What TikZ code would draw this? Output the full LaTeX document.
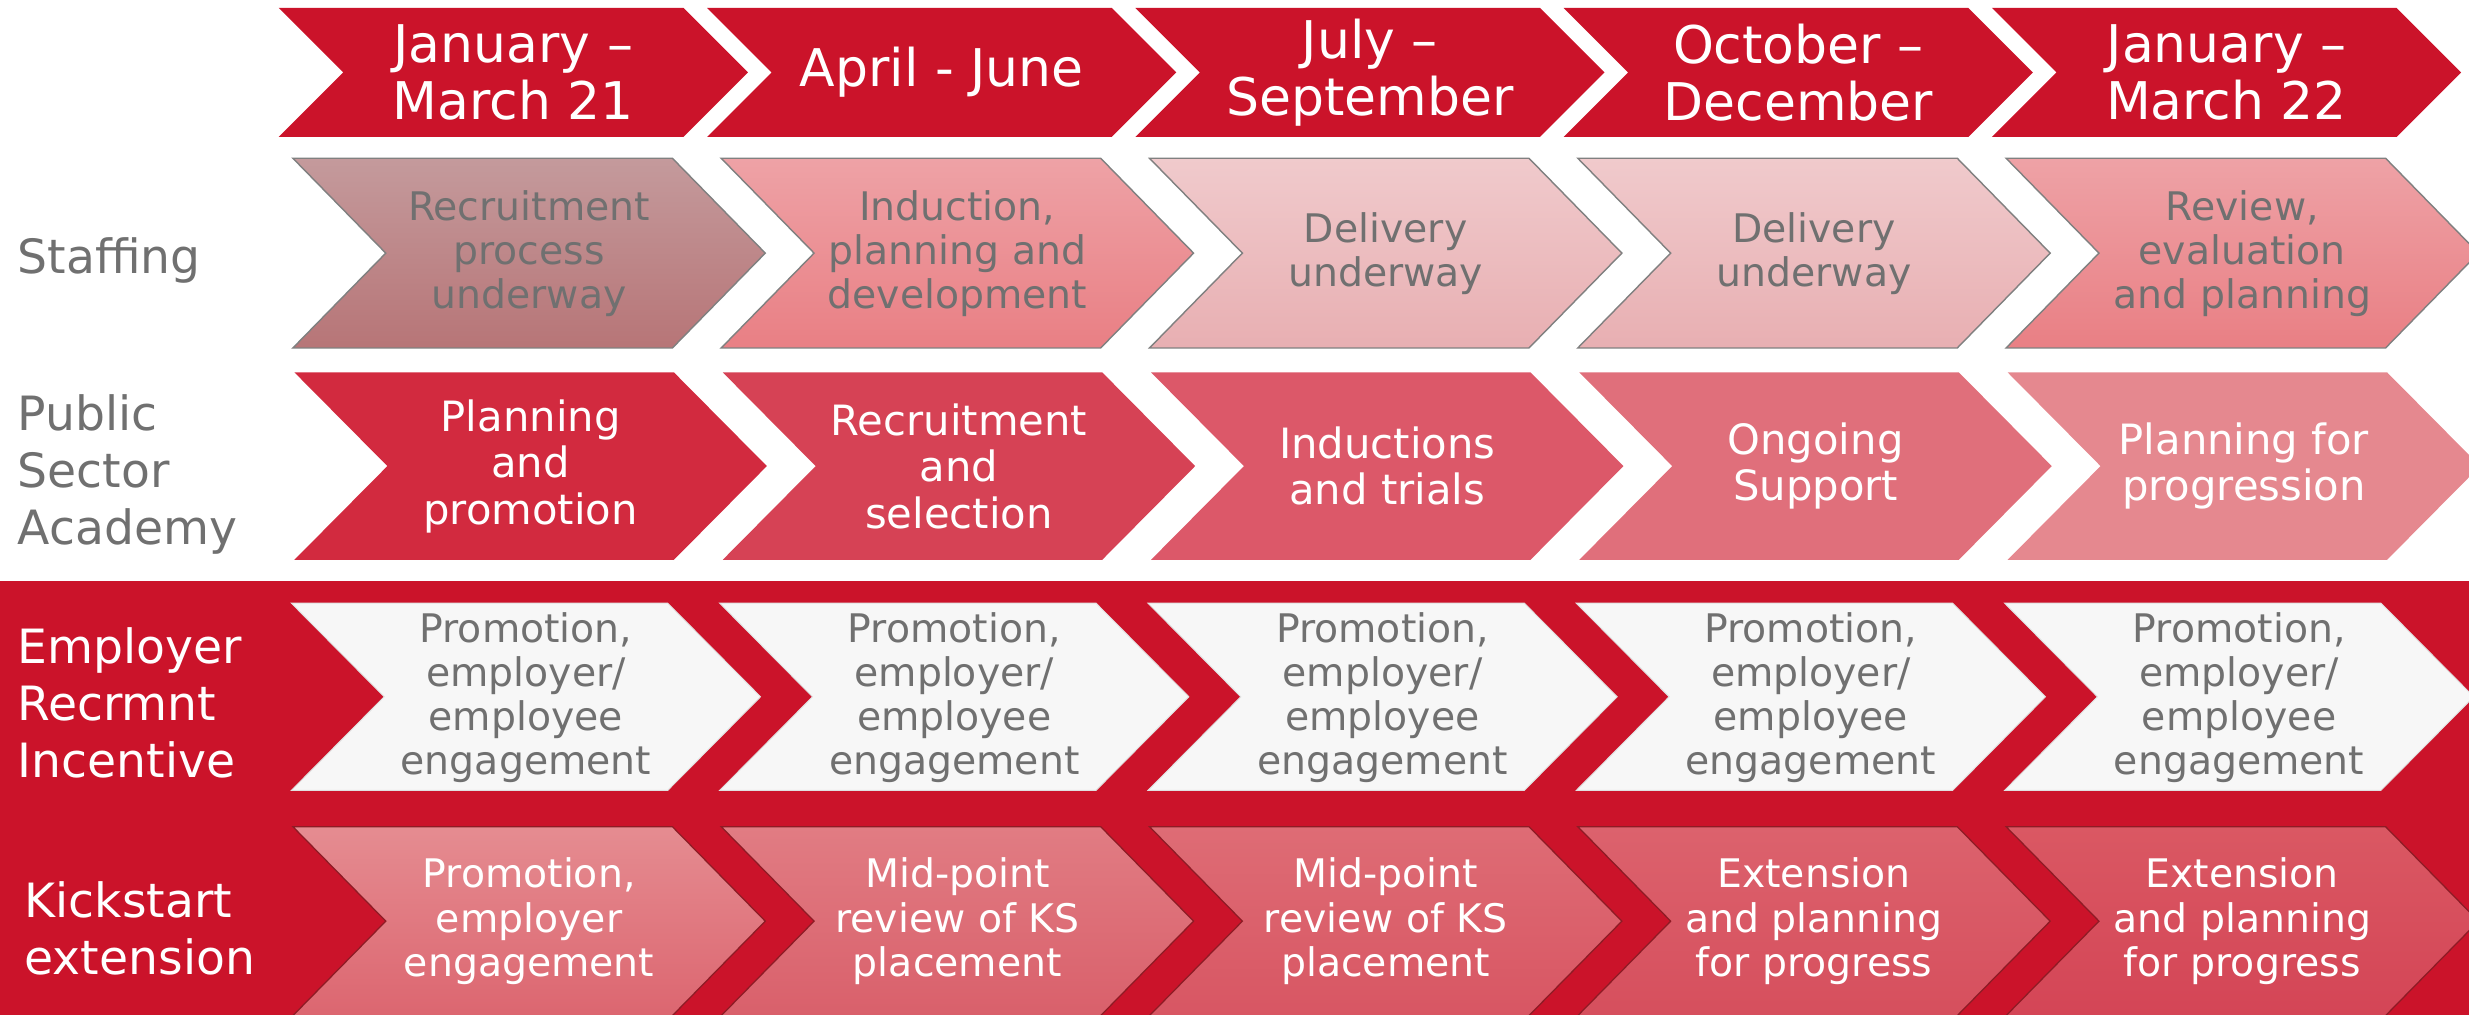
\documentclass[tikz,border=0pt]{standalone}
\usepackage{fontspec}
\setmainfont{DejaVu Sans}
\definecolor{hdr}{HTML}{CB132A}
\definecolor{txtgray}{HTML}{707070}
\definecolor{stAt}{HTML}{C49A9C}\definecolor{stAb}{HTML}{B77577}
\definecolor{stBt}{HTML}{EEA2A6}\definecolor{stBb}{HTML}{E97F84}
\definecolor{stCt}{HTML}{F0CACC}\definecolor{stCb}{HTML}{E8AFB2}
\definecolor{psA}{HTML}{D22A3F}\definecolor{psB}{HTML}{D64255}
\definecolor{psC}{HTML}{DC5869}\definecolor{psD}{HTML}{E06F7B}
\definecolor{psE}{HTML}{E5888F}
\definecolor{empf}{HTML}{F7F7F7}
\definecolor{ksAt}{HTML}{E58C91}\definecolor{ksAb}{HTML}{DC6670}
\definecolor{ksBt}{HTML}{E17C83}\definecolor{ksBb}{HTML}{D9606B}
\definecolor{ksCt}{HTML}{DE6C75}\definecolor{ksCb}{HTML}{D85663}
\definecolor{ksDt}{HTML}{DC626D}\definecolor{ksDb}{HTML}{D64F5D}
\definecolor{ksEt}{HTML}{DA5863}\definecolor{ksEb}{HTML}{D44556}
\definecolor{ksline}{HTML}{8E1B25}
% x, ytop, height, depth, width
\newcommand\mychev[5]{(#1,#2) -- ++(#5-#4,0) -- ++(#4,#3/2) -- ++(-#4,#3/2) -- ++(-#5+#4,0) -- ++(#4,-#3/2) -- cycle}
\tikzset{
  hdrtext/.style={text=white,align=center,inner sep=0pt,font=\fontsize{33}{36}\selectfont},
  graytext/.style={text=txtgray,align=center,inner sep=0pt,font=\fontsize{25}{28}\selectfont},
  whitetext/.style={text=white,align=center,inner sep=0pt,font=\fontsize{25}{28}\selectfont},
  psatext/.style={text=white,align=center,inner sep=0pt,font=\fontsize{26.5}{29.5}\selectfont},
  rowlabel/.style={align=left,inner sep=0pt,font=\fontsize{30}{36}\selectfont},
}
\begin{document}
\begin{tikzpicture}[x=1pt,y=-1pt]
\useasboundingbox (0,0) rectangle (1568,644.6);
\begin{scope}
\clip (0,0) rectangle (1568,644.6);
% red band
\fill[hdr] (0,369) rectangle (1568,650);
% header
\foreach \i/\t in {0/{January –\\March 21},1/{April - June},2/{July –\\September},3/{October –\\December},4/{January –\\March 22}}{
  \fill[hdr] \mychev{177+272*\i}{5}{82}{41}{298};
  \node[hdrtext] (h\i) at (177+272*\i+149,46) {\t};
}
% staffing
\foreach \i/\ct/\cb/\t in {0/stAt/stAb/{Recruitment\\process\\underway},1/stBt/stBb/{Induction,\\planning and\\development},2/stCt/stCb/{Delivery\\underway},3/stCt/stCb/{Delivery\\underway},4/stBt/stBb/{Review,\\evaluation\\and planning}}{
  \shade[top color=\ct,bottom color=\cb,draw=black!50,line width=0.9pt] \mychev{186+272*\i}{100.5}{120.5}{59}{300};
  \node[graytext] (s\i) at (186+272*\i+150,161) {\t};
}
% public sector academy
\foreach \i/\c/\t in {0/psA/{Planning\\and\\promotion},1/psB/{Recruitment\\and\\selection},2/psC/{Inductions\\and trials},3/psD/{Ongoing\\Support},4/psE/{Planning for\\progression}}{
  \fill[\c] \mychev{187+272*\i}{236.5}{119}{59}{300};
  \node[psatext] (p\i) at (187+272*\i+150,296) {\t};
}
% employer recruitment incentive
\foreach \i in {0,...,4}{
  \fill[empf,draw=black!12,line width=0.6pt] \mychev{185+272*\i}{383}{119}{59}{298};
  \node[graytext] (e\i) at (185+272*\i+149,443) {Promotion,\\employer/\\employee\\engagement};
}
% kickstart
\foreach \i/\ct/\cb/\t in {0/ksAt/ksAb/{Promotion,\\employer\\engagement},1/ksBt/ksBb/{Mid-point\\review of KS\\placement},2/ksCt/ksCb/{Mid-point\\review of KS\\placement},3/ksDt/ksDb/{Extension\\and planning\\for progress},4/ksEt/ksEb/{Extension\\and planning\\for progress}}{
  \shade[top color=\ct,bottom color=\cb,draw=ksline,line width=0.8pt] \mychev{186+272*\i}{525}{120}{59}{300};
  \node[whitetext] (k\i) at (186+272*\i+150,585) {\t};
}
\end{scope}
% row labels
\node[rowlabel,text=txtgray,anchor=base west] (lstaff) at (11,173.6) {Staffing};
\node[rowlabel,text=txtgray,anchor=west] (lpsa) at (11,301.4) {Public\\Sector\\Academy};
\node[rowlabel,text=white,anchor=west] (lemp) at (11,446.4) {Employer\\Recrmnt\\Incentive};
\node[rowlabel,text=white,anchor=west] (lks) at (15.5,589.6) {Kickstart\\extension};
\end{tikzpicture}
\end{document}
